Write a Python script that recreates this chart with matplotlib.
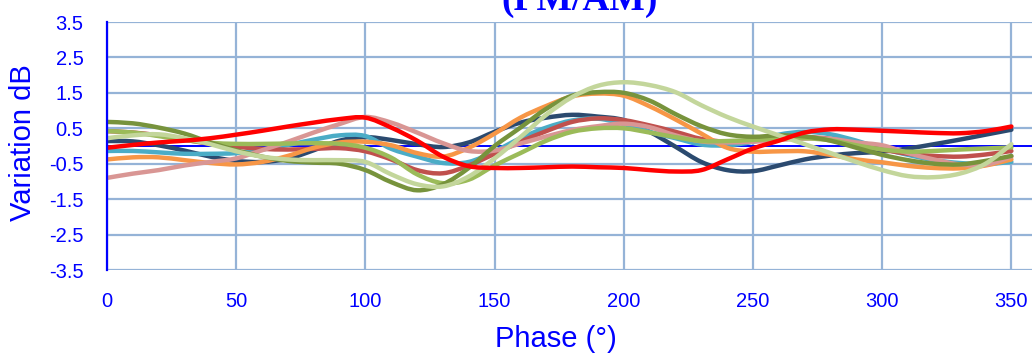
import numpy as np
import matplotlib
matplotlib.use("Agg")
import matplotlib.pyplot as plt
from matplotlib.path import Path
from matplotlib.patches import PathPatch

# ---------------- data ----------------
phase = list(range(0, 360, 10))  # 0 .. 350

red = [-0.05, 0.03, 0.10, 0.15, 0.22, 0.32, 0.43, 0.55, 0.66, 0.76,
       0.80, 0.52, 0.15, -0.30, -0.57, -0.62, -0.62, -0.60, -0.58, -0.60,
       -0.62, -0.68, -0.72, -0.68, -0.38, -0.07, 0.15, 0.38, 0.47, 0.46,
       0.43, 0.40, 0.37, 0.36, 0.42, 0.55]
navy = [0.14, 0.13, 0.02, -0.13, -0.30, -0.42, -0.45, -0.36, -0.12, 0.15,
        0.25, 0.17, 0.05, -0.03, 0.10, 0.40, 0.66, 0.80, 0.88, 0.83,
        0.73, 0.40, -0.02, -0.45, -0.68, -0.71, -0.55, -0.38, -0.27, -0.20,
        -0.16, -0.07, 0.05, 0.18, 0.32, 0.46]
orange = [-0.38, -0.32, -0.32, -0.40, -0.48, -0.52, -0.45, -0.28, -0.05, 0.10,
          0.12, 0.02, -0.20, -0.30, -0.05, 0.35, 0.80, 1.13, 1.40, 1.48,
          1.42, 1.12, 0.75, 0.35, -0.05, -0.16, -0.15, -0.15, -0.25, -0.38,
          -0.46, -0.56, -0.62, -0.63, -0.55, -0.38]
teal = [-0.14, -0.14, -0.18, -0.22, -0.22, -0.20, -0.10, 0.03, 0.18, 0.30,
        0.28, -0.08, -0.30, -0.48, -0.45, -0.15, 0.22, 0.52, 0.72, 0.77,
        0.62, 0.40, 0.22, 0.04, 0.02, 0.12, 0.32, 0.40, 0.33, 0.15,
        -0.07, -0.25, -0.40, -0.48, -0.51, -0.45]
brick = [0.42, 0.38, 0.30, 0.18, 0.06, -0.02, -0.08, -0.10, -0.08, -0.06,
         -0.15, -0.38, -0.68, -0.77, -0.55, -0.22, 0.12, 0.42, 0.68, 0.78,
         0.73, 0.58, 0.40, 0.20, 0.12, 0.15, 0.22, 0.25, 0.20, 0.05,
         -0.10, -0.22, -0.28, -0.30, -0.24, -0.14]
rose = [-0.90, -0.78, -0.68, -0.55, -0.45, -0.35, -0.12, 0.12, 0.38, 0.62,
        0.82, 0.66, 0.38, 0.08, -0.14, -0.13, 0.07, 0.27, 0.45, 0.56,
        0.63, 0.53, 0.30, 0.13, 0.10, 0.12, 0.17, 0.21, 0.20, 0.10,
        0.02, -0.20, -0.38, -0.52, -0.53, -0.30]
olive = [0.68, 0.64, 0.52, 0.35, 0.10, -0.12, -0.30, -0.42, -0.47, -0.50,
         -0.68, -1.02, -1.25, -1.08, -0.62, 0.00, 0.52, 1.05, 1.42, 1.52,
         1.50, 1.28, 0.90, 0.56, 0.33, 0.26, 0.30, 0.27, 0.15, -0.05,
         -0.25, -0.40, -0.50, -0.52, -0.42, -0.28]
lightgreen = [0.42, 0.38, 0.28, 0.17, 0.09, 0.06, 0.06, 0.07, 0.08, 0.06,
              -0.05, -0.33, -0.80, -1.05, -0.95, -0.55, -0.20, 0.15, 0.40, 0.50,
              0.50, 0.38, 0.25, 0.14, 0.14, 0.17, 0.20, 0.22, 0.16, 0.02,
              -0.10, -0.16, -0.14, -0.10, -0.07, -0.04]
palegreen = [0.22, 0.30, 0.33, 0.22, 0.05, -0.15, -0.30, -0.38, -0.40, -0.40,
             -0.45, -0.80, -1.08, -1.14, -0.86, -0.35, 0.25, 0.88, 1.38, 1.70,
             1.80, 1.72, 1.52, 1.15, 0.82, 0.55, 0.30, 0.05, -0.20, -0.45,
             -0.68, -0.85, -0.88, -0.78, -0.50, 0.05]

series = [
    (navy, "#2B4A6F"),
    (teal, "#4BACC6"),
    (brick, "#C0504D"),
    (orange, "#F79646"),
    (rose, "#D99694"),
    (lightgreen, "#9BBB59"),
    (olive, "#77933C"),
    (palegreen, "#C3D69B"),
    (red, "#FF0000"),
]

y_ticks = [3.5, 2.5, 1.5, 0.5, -0.5, -1.5, -2.5, -3.5]
y_tick_labels = ["3.5", "2.5", "1.5", "0.5", "-0.5", "-1.5", "-2.5", "-3.5"]
x_ticks = [0, 50, 100, 150, 200, 250, 300, 350]


def smooth_path(x, y):
    """Excel-like smoothed line through the data points (cubic Bezier)."""
    pts = np.column_stack([np.asarray(x, float), np.asarray(y, float)])
    n = len(pts)
    verts = [pts[0]]
    codes = [Path.MOVETO]
    for i in range(n - 1):
        p0 = pts[i - 1] if i > 0 else pts[i]
        p1 = pts[i]
        p2 = pts[i + 1]
        p3 = pts[i + 2] if i + 2 < n else pts[i + 1]
        c1 = p1 + (p2 - p0) / 6.0
        c2 = p2 - (p3 - p1) / 6.0
        verts += [c1, c2, p2]
        codes += [Path.CURVE4] * 3
    return Path(verts, codes)


W, H = 1032, 355
fig = plt.figure(figsize=(W / 100, H / 100), dpi=100)
left_px, top_px, bottom_px = 107, 22, 270
px_per_deg = 2.584
x_max = 360
ax = fig.add_axes([left_px / W, (H - bottom_px) / H,
                   x_max * px_per_deg / W, (bottom_px - top_px) / H])
ax.set_xlim(0, x_max)
ax.set_ylim(-3.5, 3.5)

grid_c = "#95B3D7"
for yt in y_ticks:
    ax.axhline(yt, color=grid_c, lw=1.6, zorder=1)
for xt in x_ticks:
    ax.axvline(xt, color=grid_c, lw=1.6, zorder=1)
ax.axhline(0, color="#0000FF", lw=1.4, zorder=2)

for vals, col in series:
    patch = PathPatch(smooth_path(phase, vals), facecolor="none",
                      edgecolor=col, lw=3.2, capstyle="round",
                      joinstyle="round", zorder=3)
    ax.add_patch(patch)

for s in ["top", "right", "bottom"]:
    ax.spines[s].set_visible(False)
ax.spines["left"].set_color("#0000FF")
ax.spines["left"].set_linewidth(1.6)
ax.spines["left"].set_zorder(4)

tick_font = dict(family="Liberation Sans", size=14.5)
ax.set_yticks(y_ticks)
ax.set_yticklabels(y_tick_labels, color="#0000FF", **tick_font)
ax.set_xticks(x_ticks)
ax.set_xticklabels([str(v) for v in x_ticks], color="#0000FF", **tick_font)
ax.tick_params(axis="y", length=0, pad=17)
ax.tick_params(axis="x", length=0, pad=16)

fig.text(556 / W, (H - 347) / H, "Phase (°)", ha="center", va="baseline",
         color="#0000FF", family="Liberation Sans", size=21)
fig.text(23 / W, (H - 143) / H, "Variation dB", ha="center", va="center",
         rotation=90, color="#0000FF", family="Liberation Sans", size=21)
fig.text(580 / W, (H - 10) / H, "(PM/AM)", ha="center", va="baseline",
         color="#0000FF", family="Liberation Serif", weight="bold", size=27)

fig.savefig("out.png", dpi=100)
